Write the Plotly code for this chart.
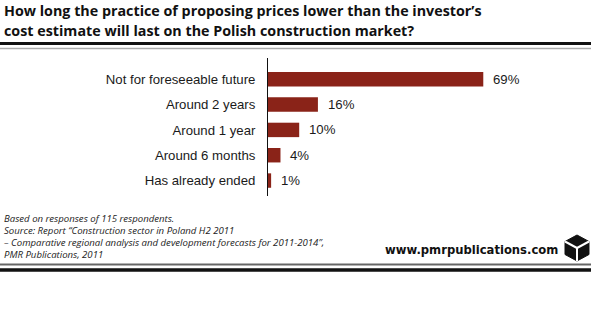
import plotly.graph_objects as go

categories = ["Has already ended", "Around 6 months", "Around 1 year", "Around 2 years", "Not for foreseeable future"]
values = [1, 4, 10, 16, 69]
value_labels = ["1%", "4%", "10%", "16%", "69%"]

title_lines = ["How long the practice of proposing prices lower than the investor\u2019s",
               "cost estimate will last on the Polish construction market?"]
footnote_lines = ["Based on responses of 115 respondents.",
                  "Source: Report \u201cConstruction sector in Poland H2 2011",
                  "\u2013 Comparative regional analysis and development forecasts for 2011-2014\u201d,",
                  "PMR Publications, 2011"]
website = "www.pmrpublications.com"

W, H = 591, 333
ML, MR, MT, MB = 268, 11, 58, 137
PW, PH = W - ML - MR, H - MT - MB

def px(x):
    return (x - ML) / PW

def py(y):
    return (H - MB - y) / PH

BAR = "#8a2318"
ARIAL = "Liberation Sans, Arial, sans-serif"
TITLEF = "Open Sans, Noto Sans, sans-serif"

fig = go.Figure()
fig.add_trace(go.Bar(
    x=values, y=categories, orientation="h",
    marker=dict(color=BAR, line=dict(width=0)),
    width=0.57, hoverinfo="skip",
))

annotations = []
for v, lab, c in zip(values, value_labels, categories):
    annotations.append(dict(x=v, y=c, xref="x", yref="y", text=lab, showarrow=False,
                            xanchor="left", yanchor="middle", xshift=8,
                            font=dict(family=ARIAL, size=13.2, color="#1a1a1a")))

title_y = [10.5, 30]
for t, yy in zip(title_lines, title_y):
    annotations.append(dict(x=px(2), y=py(yy), xref="paper", yref="paper", text="<b>%s</b>" % t,
                            showarrow=False, xanchor="left", yanchor="middle",
                            font=dict(family=TITLEF, size=14.3, color="#111111")))

foot_y = [218, 230.5, 242.5, 254]
for t, yy in zip(footnote_lines, foot_y):
    annotations.append(dict(x=px(2), y=py(yy), xref="paper", yref="paper", text="<i>%s</i>" % t,
                            showarrow=False, xanchor="left", yanchor="middle",
                            font=dict(family=TITLEF, size=9.6, color="#222222")))

annotations.append(dict(x=px(560), y=py(250), xref="paper", yref="paper", text="<b>%s</b>" % website,
                        showarrow=False, xanchor="right", yanchor="middle",
                        font=dict(family="DejaVu Sans, sans-serif", size=11.6, color="#111111")))

shapes = [
    dict(type="line", xref="paper", yref="paper", x0=px(0), x1=px(W), y0=py(43.5), y1=py(43.5),
         line=dict(color="#111111", width=3)),
    dict(type="line", xref="paper", yref="paper", x0=px(0), x1=px(W), y0=py(48.5), y1=py(48.5),
         line=dict(color="#aaaaaa", width=1.5)),
    dict(type="line", xref="paper", yref="paper", x0=px(0), x1=px(W), y0=py(264.5), y1=py(264.5),
         line=dict(color="#666666", width=2)),
    dict(type="line", xref="paper", yref="paper", x0=px(0), x1=px(W), y0=py(270), y1=py(270),
         line=dict(color="#111111", width=3.5)),
]

# logo (cube)
cx, cy, r = 577, 248, 13
hexpts = [(cx, cy - r), (cx + 12, cy - 6.5), (cx + 12, cy + 6.5), (cx, cy + r), (cx - 12, cy + 6.5), (cx - 12, cy - 6.5)]
path = "M " + " L ".join("%f,%f" % (px(a), py(b)) for a, b in hexpts) + " Z"
shapes.append(dict(type="path", xref="paper", yref="paper", path=path,
                   fillcolor="#111111", line=dict(color="#111111", width=1)))
for (a, b) in [(cx - 12, cy - 6.5), (cx + 12, cy - 6.5), (cx, cy + r)]:
    shapes.append(dict(type="line", xref="paper", yref="paper", x0=px(cx), y0=py(cy), x1=px(a), y1=py(b),
                       line=dict(color="white", width=2)))

fig.update_layout(
    width=W, height=H,
    margin=dict(l=ML, r=MR, t=MT, b=MB, pad=0),
    paper_bgcolor="white", plot_bgcolor="white",
    showlegend=False,
    xaxis=dict(range=[0, 100], visible=False, fixedrange=True),
    yaxis=dict(type="category", categoryorder="array", categoryarray=categories,
               range=[-0.61, 4.84], showline=True, linecolor="#111111", linewidth=1,
               ticks="", showgrid=False, zeroline=False, ticklabelstandoff=9,
               tickfont=dict(family=ARIAL, size=13.2, color="#1a1a1a"), fixedrange=True),
    annotations=annotations,
    shapes=shapes,
)

fig.write_html("out.html")
